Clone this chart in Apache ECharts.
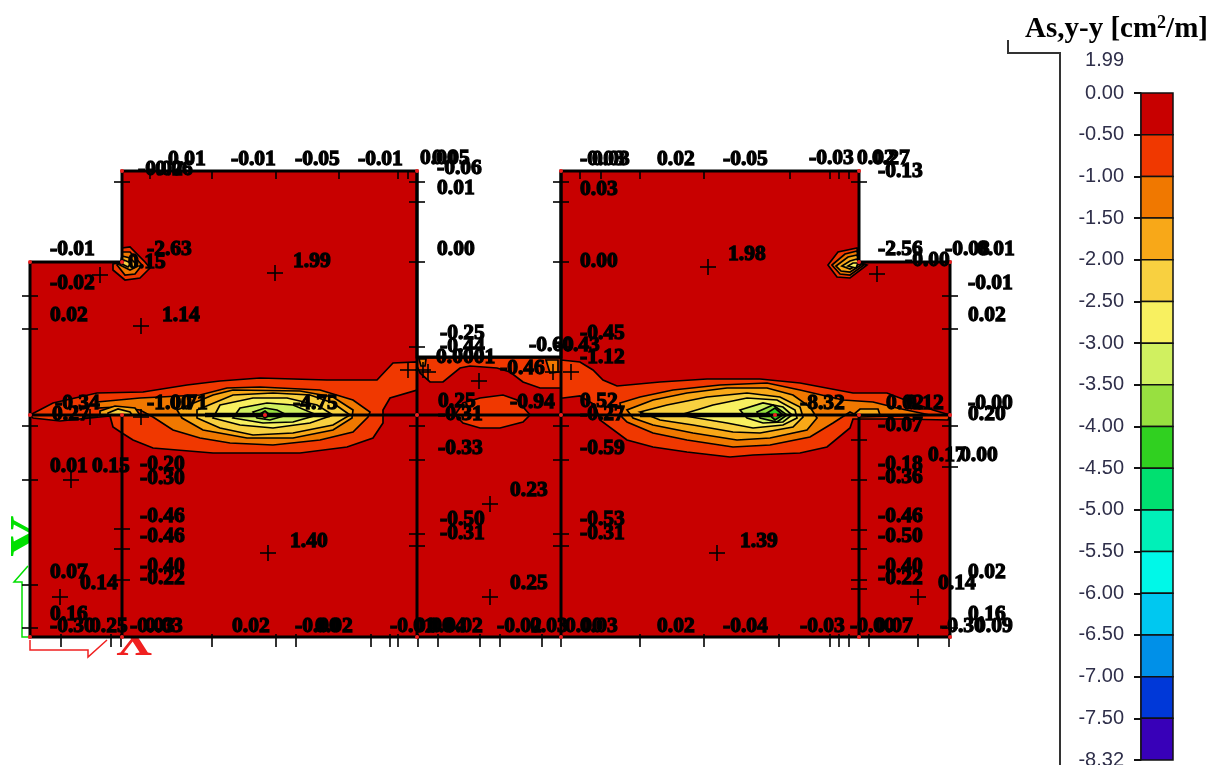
<!DOCTYPE html>
<html><head><meta charset="utf-8">
<style>html,body{margin:0;padding:0;background:#fff}#c{width:1223px;height:765px}</style>
<script src="https://cdn.jsdelivr.net/npm/echarts@6/dist/echarts.min.js"></script>
</head><body><div id="c"></div>
<script>
const legendLabels = ['0.00','-0.50','-1.00','-1.50','-2.00','-2.50','-3.00','-3.50','-4.00','-4.50','-5.00','-5.50','-6.00','-6.50','-7.00','-7.50','-8.32'];
const legendColors = ['#C80000','#F03800','#F07800','#F8A818','#F8D040','#F8F060','#D0F060','#98E040','#30D020','#00E070','#00F0B8','#00F8E8','#00C8F0','#0090E8','#0038D8','#3800B8'];
const outline = [[30,262],[122,262],[122,171],[417,171],[417,357],[561,357],[561,171],[859,171],[859,262],[950,262],[950,637],[30,637],[30,262]];
const meshLines = [[[30,415],[950,415]],[[122,415],[122,637]],[[417,171],[417,637]],[[561,171],[561,637]],[[859,415],[859,637]]];
const wedgeLines = [[[205,415],[330,415]],[[640,415],[770,415]]];
// contour polygons: [band index, points]
const leftLens = [
 [1,[[30,415],[53,403],[97,393],[143,392],[187,385],[220,381],[260,378],[327,380],[377,380],[393,363],[417,362],[417,390],[390,398],[383,410],[383,423],[373,438],[347,447],[300,453],[213,453],[153,448],[133,440],[122,433],[113,427],[110,416],[60,421],[33,418]]],
 [2,[[97,402],[140,398],[200,395],[227,388],[260,387],[320,390],[353,400],[370,412],[368,417],[353,432],[320,440],[273,445],[230,443],[200,438],[173,430],[153,417],[140,410],[117,407],[97,408]]],
 [3,[[100,411],[115,406],[135,408],[140,415],[100,415]]],
 [4,[[108,413],[118,409],[130,412],[132,415],[108,415]]],
 [3,[[177,410],[213,395],[233,390],[300,391],[333,397],[353,410],[352,418],[333,430],[293,438],[247,438],[203,430],[182,418]]],
 [4,[[197,410],[233,395],[273,393],[310,395],[333,403],[350,415],[333,425],[293,433],[253,435],[220,428],[197,418]]],
 [5,[[220,405],[253,398],[287,398],[317,405],[333,415],[310,423],[273,428],[240,425],[213,418]]],
 [6,[[240,408],[267,403],[293,405],[317,415],[293,422],[263,423],[233,418]]],
 [7,[[253,412],[265,408],[277,410],[287,415],[270,420],[257,418]]],
 [8,[[260,414],[265,411],[270,415],[265,418]]]
];
const centreBands = [
 [1,[[417,358],[561,358],[561,388],[540,388],[523,382],[510,372],[497,368],[470,366],[460,368],[443,382],[430,382],[420,373],[417,366]]],
 [2,[[546,360],[558,360],[558,372],[550,373]]],
 [2,[[419,359],[426,359],[425,366],[421,366]]],
 [1,[[455,415],[463,403],[480,398],[503,395],[517,400],[530,415],[523,422],[500,428],[480,428],[463,423]]]
];
const rightLens = [
 [1,[[561,360],[580,362],[593,370],[603,380],[617,386],[660,382],[707,379],[760,379],[800,383],[853,393],[887,393],[913,403],[933,410],[950,415],[948,420],[900,419],[853,419],[850,428],[827,447],[800,453],[753,455],[730,457],[687,452],[653,447],[627,440],[600,420],[595,405],[580,396],[563,398],[561,398]]],
 [2,[[622,417],[620,403],[640,397],[673,390],[720,385],[767,383],[800,390],[843,400],[873,402],[897,408],[930,415],[860,417],[850,412],[833,423],[810,437],[770,445],[733,447],[687,440],[653,433],[627,422]]],
 [3,[[853,415],[860,409],[878,409],[880,415]]],
 [3,[[633,418],[627,410],[653,400],[687,393],[727,388],[767,388],[793,395],[810,407],[817,418],[807,430],[770,438],[737,440],[693,433],[653,425]]],
 [4,[[640,412],[667,405],[707,397],[747,393],[780,397],[800,407],[803,417],[793,427],[760,433],[733,432],[693,425],[660,420]]],
 [5,[[680,415],[713,405],[747,398],[777,400],[795,410],[797,418],[783,425],[753,428],[727,423],[697,418]]],
 [6,[[740,410],[763,403],[783,407],[792,415],[783,422],[763,423],[747,418]]],
 [7,[[757,412],[773,405],[787,415],[777,422],[760,418]]],
 [8,[[767,413],[775,408],[783,415],[775,420]]]
];
const nodeBlobs = [
 [1,[[113,264],[122,262],[122,248],[130,247],[145,262],[150,268],[140,278],[125,280],[113,270]]],
 [2,[[117,265],[122,262],[122,252],[130,252],[142,265],[135,274],[125,275]]],
 [3,[[120,265],[122,256],[130,258],[138,266],[130,270]]],
 [4,[[122,264],[124,260],[131,263],[128,267]]],
 [1,[[828,265],[838,252],[857,248],[859,262],[867,265],[850,278],[837,277]]],
 [2,[[832,265],[845,254],[857,251],[859,263],[864,265],[850,275],[840,274]]],
 [3,[[836,266],[848,257],[857,255],[859,263],[861,265],[850,272],[841,271]]],
 [4,[[842,266],[850,261],[857,259],[859,264],[850,269]]],
 [5,[[848,266],[853,263],[858,263],[856,268]]]
];
const contourPolys = [...leftLens, ...centreBands, ...rightLens, ...nodeBlobs];
const crossPoints = [[100,275],[141,326],[275,273],[708,267],[877,274],[71,480],[268,553],[490,504],[490,597],[717,553],[60,597],[918,597],[479,381],[423,370],[408,370],[428,372],[553,372],[571,372],[90,417],[141,417]];
const vTicksTop = [150,212,276,339,398,408,580,601,640,704,790,830,839,849];
const vTicksBottom = [61,111,121,212,276,296,371,390,398,418,438,480,500,542,561,640,704,779,830,839,849,869,918,949];
const hTicks = [[30,296],[30,329],[30,426],[30,480],[30,585],[30,628],[122,182],[122,529],[122,549],[122,580],[417,182],[417,202],[417,262],[417,347],[417,426],[417,460],[417,534],[417,546],[561,182],[561,202],[561,262],[561,347],[561,426],[561,460],[561,534],[561,546],[859,182],[859,440],[859,480],[859,530],[859,549],[859,580],[859,589],[950,296],[950,329],[950,426],[950,467],[950,628]];
const nodeDots = [[122,171],[417,171],[30,262],[122,262],[30,415],[122,415],[417,415],[561,415],[859,415],[950,415],[30,637],[122,637],[417,637],[561,637],[859,637],[950,637],[265,415],[775,415],[859,171],[950,262],[859,262],[561,171]];
const gizmoGreen = [[28,637],[22,637],[22,582],[14,582],[28,566]];
const gizmoRed = [[30,640],[30,650],[88,650],[88,657],[107,640]];
const valueLabels = [
 [168,158,'0.01'],[138,168,'-0.02'],[148,168,'-0.06'],[231,158,'-0.01'],[295,158,'-0.05'],[358,158,'-0.01'],[420,157,'0.00'],[432,157,'0.05'],[437,167,'-0.06'],[437,187,'0.01'],[437,248,'0.00'],
 [580,158,'-0.03'],[592,158,'0.03'],[657,158,'0.02'],[723,158,'-0.05'],[809,157,'-0.03'],[857,157,'0.02'],[872,157,'0.27'],[878,170,'-0.13'],
 [580,188,'0.03'],[580,260,'0.00'],[728,253,'1.98'],[293,260,'1.99'],[162,314,'1.14'],[50,314,'0.02'],[50,282,'-0.02'],[50,248,'-0.01'],[147,248,'-2.63'],[128,261,'0.15'],
 [878,248,'-2.56'],[905,259,'-0.00'],[945,248,'-0.08'],[977,248,'0.01'],[968,282,'-0.01'],[968,314,'0.02'],
 [440,332,'-0.25'],[440,345,'-0.44'],[436,356,'0.0001'],[529,344,'-0.60'],[580,332,'-0.45'],[555,344,'-0.43'],[580,356,'-1.12'],[500,367,'-0.46'],
 [438,400,'0.25'],[438,413,'-0.31'],[510,401,'-0.94'],[580,400,'0.52'],[580,413,'-0.27'],[438,447,'-0.33'],[580,447,'-0.59'],
 [55,402,'-0.34'],[52,413,'0.27'],[147,402,'-1.00'],[170,402,'0.71'],[293,402,'-4.75'],[800,402,'-8.32'],[886,402,'0.02'],[906,402,'0.12'],[878,424,'-0.07'],[968,402,'-0.00'],[968,413,'0.20'],[928,454,'0.17'],[960,454,'0.00'],
 [878,463,'-0.18'],[878,476,'-0.36'],[50,465,'0.01'],[92,465,'0.15'],[140,463,'-0.20'],[140,477,'-0.30'],[140,515,'-0.46'],[140,535,'-0.46'],[140,565,'-0.40'],[140,577,'-0.22'],
 [50,571,'0.07'],[80,582,'0.14'],[50,613,'0.16'],[50,625,'-0.30'],[90,625,'0.25'],[130,625,'-0.03'],[145,625,'0.03'],[232,625,'0.02'],[295,625,'-0.00'],[315,625,'0.02'],
 [390,625,'-0.01'],[415,625,'0.00'],[428,625,'0.04'],[445,625,'0.02'],[497,625,'-0.02'],[530,625,'0.03'],[565,625,'0.00'],[580,625,'0.03'],[657,625,'0.02'],[723,625,'-0.04'],[800,625,'-0.03'],[850,625,'-0.00'],[875,625,'0.07'],[940,625,'-0.30'],[975,625,'0.09'],[968,613,'0.16'],[938,582,'0.14'],[968,571,'0.02'],
 [878,515,'-0.46'],[878,535,'-0.50'],[878,565,'-0.40'],[878,577,'-0.22'],[440,518,'-0.50'],[440,532,'-0.31'],[510,489,'0.23'],[510,582,'0.25'],[580,518,'-0.53'],[580,532,'-0.31'],[290,540,'1.40'],[740,540,'1.39']
];
const scaleTop = ['1.99'];
const bracket = [[1008,40],[1008,53],[1060,53],[1060,765]];

function polySeries(list, color, width, z){
  return {type:'custom', xAxisIndex:0, yAxisIndex:0, z:z, silent:true, clip:false, data:list.map((_,i)=>[i]), encode:{x:0},
    renderItem:(p,api)=>{const pts=list[api.value(0)].map(q=>api.coord(q));
      return {type:'polyline',shape:{points:pts},style:{stroke:color,lineWidth:width,fill:null}};}};
}
const segs=[];
crossPoints.forEach(([x,y])=>{segs.push([x-8,y,x+8,y]);segs.push([x,y-8,x,y+8]);});
vTicksTop.forEach(x=>segs.push([x,170,x,179]));
vTicksBottom.forEach(x=>segs.push([x,634,x,647]));
hTicks.forEach(([x,y])=>segs.push([x-8,y,x+8,y]));

const chart=echarts.init(document.getElementById('c'),null,{renderer:'canvas'});
chart.setOption({
 animation:false,backgroundColor:'#fff',
 title:{left:1020,top:9,padding:5,text:'{a|As,y-y [cm}{s|2}{a|/m]}',textStyle:{rich:{
   a:{fontFamily:'Liberation Serif',fontWeight:'bold',fontSize:29,color:'#000',verticalAlign:'bottom'},
   s:{fontFamily:'Liberation Serif',fontWeight:'bold',fontSize:18,color:'#000',verticalAlign:'bottom',padding:[0,0,12,0]}}}},
 grid:[{left:0,top:0,width:1223,height:765,show:false,outerBoundsMode:'none'},{left:1141,top:93,width:32,height:667,show:false,outerBoundsMode:'none'}],
 xAxis:[{type:'value',gridIndex:0,min:0,max:1223,show:false},{type:'value',gridIndex:1,min:0,max:1,show:false}],
 yAxis:[{type:'value',gridIndex:0,min:0,max:765,inverse:true,show:false},
  {type:'value',gridIndex:1,min:0,max:16,interval:1,inverse:true,splitLine:{show:false},
   axisLine:{show:true,onZero:false,lineStyle:{color:'#222',width:1.5}},axisTick:{show:true,length:7,lineStyle:{color:'#111',width:2}},
   axisLabel:{margin:17,color:'#2f2f4a',fontFamily:'Liberation Sans',fontSize:20,showMinLabel:true,showMaxLabel:true,hideOverlap:false,formatter:v=>legendLabels[v]}}],
 series:[
  {type:'scatter',xAxisIndex:0,yAxisIndex:0,z:0,silent:true,symbolSize:0,itemStyle:{opacity:1},data:[[34,536,'Y']],
   label:{show:true,position:'inside',rotate:90,align:'center',verticalAlign:'middle',formatter:p=>p.value[2],fontFamily:'Liberation Serif',fontWeight:'bold',fontSize:58,color:'#00E000'}},
  {type:'scatter',xAxisIndex:0,yAxisIndex:0,z:0,silent:true,symbolSize:0,itemStyle:{opacity:1},data:[[134,642,'X']],
   label:{show:true,position:'inside',align:'center',verticalAlign:'middle',formatter:p=>p.value[2],fontFamily:'Liberation Serif',fontWeight:'bold',fontSize:50,color:'#F02020'}},
  {type:'custom',xAxisIndex:0,yAxisIndex:0,z:1,silent:true,data:[[0]],encode:{x:0},
   renderItem:(p,api)=>({type:'polygon',shape:{points:outline.map(q=>api.coord(q))},style:{fill:legendColors[0]}})},
  {type:'custom',xAxisIndex:0,yAxisIndex:0,z:2,silent:true,data:contourPolys.map((_,i)=>[i]),encode:{x:0},
   renderItem:(p,api)=>{const c=contourPolys[api.value(0)];
     return {type:'polygon',shape:{points:c[1].map(q=>api.coord(q))},style:{fill:legendColors[c[0]],stroke:'#000',lineWidth:1.7}};}},
  polySeries([outline],'#000',3,3),
  polySeries(meshLines,'#000',3,3),
  polySeries(wedgeLines,'#000',4.5,3),
  polySeries([gizmoGreen],'#00E000',1.5,3),
  polySeries([gizmoRed],'#F02020',1.5,3),
  polySeries([bracket],'#333',2,3),
  {type:'custom',xAxisIndex:0,yAxisIndex:0,z:4,silent:true,data:segs,encode:{x:[0,2],y:[1,3]},
   renderItem:(p,api)=>{const a=api.coord([api.value(0),api.value(1)]),b=api.coord([api.value(2),api.value(3)]);
     return {type:'line',shape:{x1:a[0],y1:a[1],x2:b[0],y2:b[1]},style:{stroke:'#000',lineWidth:1.6}};}},
  {type:'scatter',xAxisIndex:0,yAxisIndex:0,z:5,silent:true,symbolSize:4,itemStyle:{color:'#F02020',opacity:1},data:nodeDots},
  {type:'scatter',xAxisIndex:0,yAxisIndex:0,z:6,silent:true,symbolSize:0,itemStyle:{opacity:1},data:valueLabels.map(d=>[d[0],d[1]+1,d[2]]),
   label:{show:true,position:'inside',align:'left',verticalAlign:'middle',formatter:p=>p.value[2],
     fontFamily:'Liberation Serif',fontWeight:'bold',fontSize:21.5,color:'#000',textBorderColor:'#000',textBorderWidth:1.3},
   labelLayout:{hideOverlap:false}},
  {type:'scatter',xAxisIndex:0,yAxisIndex:0,z:6,silent:true,symbolSize:0,itemStyle:{opacity:1},data:[[1124,60,scaleTop[0]]],
   label:{show:true,position:'inside',align:'right',verticalAlign:'middle',formatter:p=>p.value[2],fontFamily:'Liberation Sans',fontSize:20,color:'#2f2f4a'}},
  {type:'custom',xAxisIndex:1,yAxisIndex:1,z:3,silent:true,clip:false,data:legendColors.map((_,i)=>[0,i]),encode:{x:0,y:1},
   renderItem:(p,api)=>{const i=api.value(1),a=api.coord([0,i]),b=api.coord([1,i+1]);
     return {type:'rect',shape:{x:a[0],y:a[1],width:b[0]-a[0],height:b[1]-a[1]},style:{fill:legendColors[i],stroke:'#111',lineWidth:1.5}};}}
 ]
});
</script></body></html>
